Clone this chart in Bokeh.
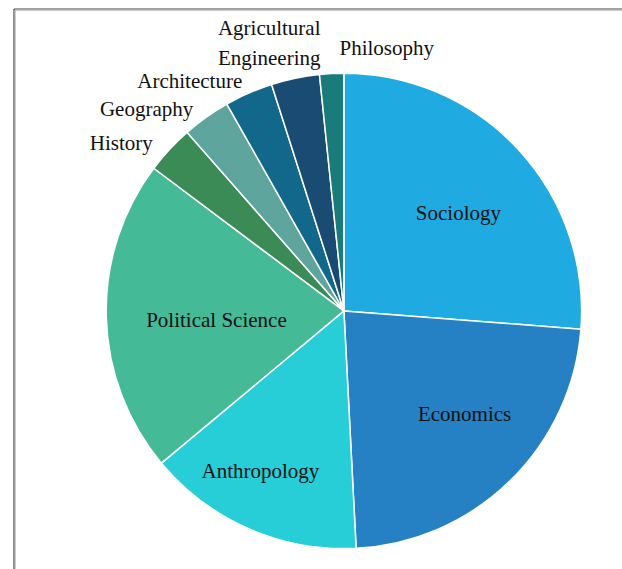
import math
from bokeh.plotting import figure
from bokeh.models import Range1d, ColumnDataSource
from bokeh.core.properties import value
from bokeh.embed import file_html
from bokeh.resources import INLINE

# ---- data ----
categories = ["Sociology", "Economics", "Anthropology", "Political Science",
              "History", "Geography", "Architecture",
              "Agricultural\nEngineering", "Philosophy"]
counts = [16, 14, 9, 13, 2, 2, 2, 2, 1]
colors = ["#1FAAE1", "#2581C4", "#27CDD7", "#45BA96", "#3A8B55",
          "#5EA59E", "#12688A", "#1A4C73", "#1A7B7B"]

# ---- layout / style ----
W, H = 622, 569
CX, CY, R = 343.4, 258.6, 237.7
# label placement: (angle nudge in degrees from slice middle, distance from centre)
label_place = [(2.4, 150.4), (-5.1, 159.0), (3.9, 180.7), (-2.8, 127.8),
               (-5.7, 279.0), (-9.0, 282.0), (-10.2, 277.0), (-3.8, 277.7),
               (12.2, 266.8)]

total = float(sum(counts))
starts, ends, mids = [], [], []
cum = 0.0
for c in counts:
    a0 = cum / total
    cum += c
    a1 = cum / total
    # clockwise from 12 o'clock
    starts.append(math.pi / 2 - 2 * math.pi * a1)
    ends.append(math.pi / 2 - 2 * math.pi * a0)
    mids.append(360.0 * (a0 + a1) / 2)

src = ColumnDataSource(dict(start=starts, end=ends, color=colors, cat=categories))

p = figure(width=W, height=H, x_range=Range1d(0, W), y_range=Range1d(0, H),
           output_backend="svg", toolbar_location=None, min_border=0,
           x_axis_location=None, y_axis_location=None)
p.grid.visible = False
p.outline_line_color = None
p.background_fill_color = "white"
p.border_fill_color = "white"

p.wedge(x=CX, y=CY, radius=R, start_angle="start", end_angle="end",
        fill_color="color", line_color="white", line_width=1.5, source=src)

lx, ly = [], []
for m, (nudge, dist) in zip(mids, label_place):
    t = math.radians(m + nudge)
    lx.append(CX + dist * math.sin(t))
    ly.append(CY + dist * math.cos(t))

p.text(x=lx, y=ly, text=categories, text_font=value("Liberation Serif"),
       text_font_size="21px", text_color="#111111", text_align="center",
       text_baseline="middle", text_line_height=1.25)

# frame lines (cropped box)
p.line(x=[13.5, 13.5], y=[0, 560.5], line_color="#444444", line_width=1.2)
p.line(x=[14.6, 14.6], y=[0, 559.4], line_color="#aaaaaa", line_width=1)
p.line(x=[13.5, W], y=[560.5, 560.5], line_color="#444444", line_width=1.2)
p.line(x=[14.6, W], y=[559.4, 559.4], line_color="#aaaaaa", line_width=1)

open("out.html", "w").write(file_html(p, INLINE))
